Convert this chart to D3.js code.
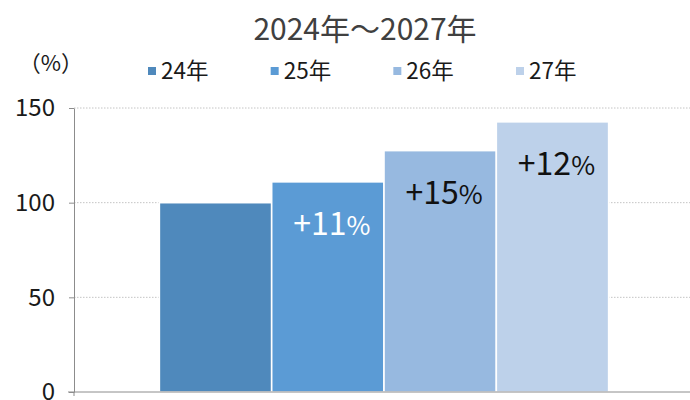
<!DOCTYPE html>
<html>
<head>
<meta charset="utf-8">
<script src="https://cdn.jsdelivr.net/npm/d3@7"></script>
<style>
  html, body { margin: 0; padding: 0; background: #fff; }
  svg { display: block; font-family: "Noto Sans CJK JP", "Noto Sans", sans-serif; }
</style>
</head>
<body>
<svg id="chart" width="690" height="400"></svg>
<script>
// ---- data ----
const title = "2024年～2027年";
const unitLabel = "（%）";
const categories = ["2024年～2027年"];
const seriesNames = ["24年", "25年", "26年", "27年"];
const seriesValues = [100, 111, 127.5, 142.7];
const growthLabels = [null, "+11", "+15", "+12"];
const yTicks = [0, 50, 100, 150];
const seriesColors = ["#4f89bc", "#5b9bd5", "#97b9e0", "#bdd1ea"];
const labelColors = [null, "#ffffff", "#111111", "#111111"];

// ---- layout ----
const W = 690, H = 400;
const plot = { left: 74, right: 694, top: 108, bottom: 392 };
const svg = d3.select("#chart");

const y = d3.scaleLinear().domain([0, 150]).range([plot.bottom, plot.top]);
const x0 = d3.scaleBand().domain(categories).range([plot.left, plot.right])
  .paddingInner(0).paddingOuter(0.19);
const x1 = d3.scaleBand().domain(seriesNames).range([0, x0.bandwidth()]).padding(0);

// title
svg.append("text")
  .attr("x", 365).attr("y", 40)
  .attr("text-anchor", "middle")
  .attr("font-size", 30)
  .attr("fill", "#404040")
  .text(title);

// unit label
svg.append("text")
  .attr("x", 51).attr("y", 71)
  .attr("text-anchor", "middle")
  .attr("font-size", 22)
  .attr("fill", "#1a1a1a")
  .text(unitLabel);

// legend
const legendX = d3.scalePoint().domain(seriesNames).range([148, 516]);
const lg = svg.append("g").selectAll("g").data(seriesNames).join("g")
  .attr("transform", d => `translate(${legendX(d)},0)`);
lg.append("rect").attr("x", 0).attr("y", 67).attr("width", 8).attr("height", 8)
  .attr("fill", (d, i) => seriesColors[i]);
lg.append("text").attr("x", 13).attr("y", 79)
  .attr("font-size", 22.5).attr("fill", "#1a1a1a")
  .text(d => d);

// gridlines
svg.append("g").selectAll("line").data(yTicks.filter(t => t > 0)).join("line")
  .attr("x1", plot.left).attr("x2", W)
  .attr("y1", d => y(d)).attr("y2", d => y(d))
  .attr("stroke", "#c4c4c4").attr("stroke-width", 1)
  .attr("stroke-dasharray", "1.5,1.5");

// bars
const group = svg.append("g").selectAll("g").data(categories).join("g")
  .attr("transform", d => `translate(${x0(d)},0)`);
group.selectAll("rect").data(seriesNames.map((n, i) => ({ n, v: seriesValues[i], i })))
  .join("rect")
  .attr("x", d => x1(d.n))
  .attr("y", d => y(d.v))
  .attr("width", x1.bandwidth())
  .attr("height", d => y(0) - y(d.v))
  .attr("fill", d => seriesColors[d.i])
  .attr("stroke", "#ffffff").attr("stroke-width", 1.6);

// growth labels
const lab = group.selectAll("text.g").data(seriesNames.map((n, i) => ({ n, v: seriesValues[i], i, t: growthLabels[i] })).filter(d => d.t))
  .join("text").attr("class", "g")
  .attr("x", d => x1(d.n) + x1.bandwidth() / 2 + 4)
  .attr("y", d => y(d.v) + 53)
  .attr("text-anchor", "middle")
  .attr("fill", d => labelColors[d.i])
  .attr("font-size", 32);
lab.append("tspan").text(d => d.t);
lab.append("tspan").attr("font-size", 26).text("%");

// y axis
const yAxis = svg.append("g")
  .attr("transform", `translate(${plot.left},0)`)
  .call(d3.axisLeft(y).tickValues(yTicks).tickSize(5).tickSizeOuter(0).tickPadding(14));
yAxis.select(".domain").attr("stroke", "#8c8c8c");
yAxis.selectAll(".tick line").attr("stroke", "#8c8c8c");
yAxis.selectAll(".tick text")
  .attr("font-family", "'Noto Sans CJK JP', sans-serif")
  .attr("font-size", 24).attr("fill", "#1a1a1a");

// x axis line
svg.append("line")
  .attr("x1", plot.left - 6).attr("x2", W)
  .attr("y1", y(0)).attr("y2", y(0))
  .attr("stroke", "#8c8c8c").attr("stroke-width", 1);
svg.append("line")
  .attr("x1", plot.left).attr("x2", plot.left)
  .attr("y1", y(0)).attr("y2", y(0) + 4)
  .attr("stroke", "#8c8c8c").attr("stroke-width", 1);
</script>
</body>
</html>
